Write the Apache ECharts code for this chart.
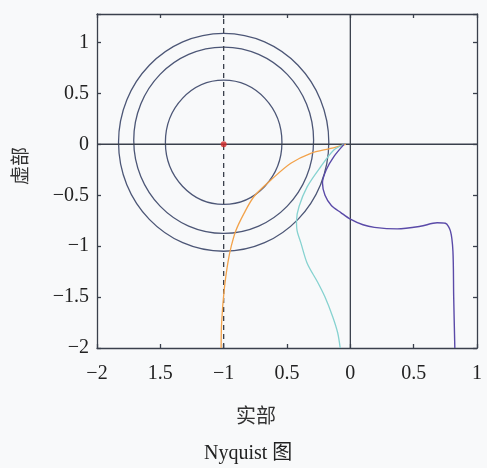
<!DOCTYPE html>
<html>
<head>
<meta charset="utf-8">
<script src="https://cdn.jsdelivr.net/npm/echarts@6/dist/echarts.min.js"></script>
<style>
html,body{margin:0;padding:0;background:#f8f9fa;}
#chart{width:487px;height:468px;}
</style>
</head>
<body>
<div id="chart"></div>
<script>
// tick values and the labels as printed in the figure
const xTicks = [-2, -1.5, -1, -0.5, 0, 0.5, 1];
const xTickLabels = ['−2', '1.5', '−1', '0.5', '0', '0.5', '1'];
const yTicks = [-2, -1.5, -1, -0.5, 0, 0.5, 1];
const yTickLabels = ['−2', '−1.5', '−1', '−0.5', '0', '0.5', '1'];

// circles: [centerX, centerY, radiusX, radiusY] in data units
const circles = [
  [-1.0, 0.02, 0.46, 0.61],
  [-1.0, 0.04, 0.71, 0.915],
  [-1.0, 0.02, 0.83, 1.07]
];

const orangeCurve = [[-0.035,0],[-0.155,-0.04],[-0.312,-0.088],[-0.47,-0.186],[-0.627,-0.35],
  [-0.759,-0.51],[-0.838,-0.675],[-0.905,-0.85],[-0.94,-1.0],[-0.965,-1.15],[-0.995,-1.42],
  [-1.016,-1.75],[-1.02,-2]];
const cyanCurve = [[-0.05,0],[-0.13,-0.056],[-0.234,-0.22],[-0.34,-0.415],[-0.405,-0.61],
  [-0.425,-0.75],[-0.42,-0.85],[-0.39,-0.97],[-0.34,-1.17],[-0.26,-1.35],[-0.2,-1.5],
  [-0.14,-1.69],[-0.1,-1.85],[-0.08,-2]];
const purpleCurve = [[-0.05,0],[-0.13,-0.12],[-0.19,-0.25],[-0.22,-0.38],[-0.2,-0.5],
  [-0.15,-0.6],[-0.075,-0.67],[0.0,-0.735],[0.1,-0.79],[0.19,-0.815],[0.37,-0.83],
  [0.553,-0.805],[0.685,-0.77],[0.75,-0.775],[0.79,-0.85],[0.81,-1.05],[0.816,-1.5],[0.825,-2]];

const criticalPoint = [[-1, 0]];
const realAxisLine = [[-2, 0], [1, 0]];
const imagAxisLine = [[0, -2], [0, 1.28]];
const dashedLine = [[-1, -2], [-1, 1.28]];

const axisColor = '#3a404c';
const numFont = '"Liberation Serif", "DejaVu Serif", serif';
const cjkFont = '"Noto Sans CJK SC", sans-serif';

function fmt(ticks, labels) {
  return function (v) {
    const i = ticks.findIndex(t => Math.abs(t - v) < 1e-6);
    return i >= 0 ? labels[i] : '';
  };
}

const chart = echarts.init(document.getElementById('chart'));
const baseAxis = {
  type: 'value',
  interval: 0.5,
  axisLine: { show: true, onZero: false, lineStyle: { color: axisColor, width: 1.3 } },
  axisTick: { show: true, inside: true, length: 4, lineStyle: { color: axisColor, width: 1.3 } },
  splitLine: { show: false }
};

const option = {
  backgroundColor: '#f8f9fa',
  animation: false,
  grid: { left: 97, right: 10, top: 14, bottom: 120 },
  xAxis: [
    Object.assign({}, baseAxis, {
      min: -2, max: 1, position: 'bottom',
      axisLabel: { formatter: fmt(xTicks, xTickLabels), color: '#222', fontFamily: numFont, fontSize: 20, margin: 16, showMaxLabel: true, showMinLabel: true }
    }),
    Object.assign({}, baseAxis, {
      min: -2, max: 1, position: 'top', axisLabel: { show: false }
    })
  ],
  yAxis: [
    Object.assign({}, baseAxis, {
      min: -2, max: 1.28, position: 'left',
      axisLabel: { formatter: fmt(yTicks, yTickLabels), color: '#222', fontFamily: numFont, fontSize: 20, margin: 8 }
    }),
    Object.assign({}, baseAxis, {
      min: -2, max: 1.28, position: 'right', axisLabel: { show: false }
    })
  ],
  graphic: [
    { type: 'text', left: 236, top: 405, style: { text: '实部', font: '20px ' + cjkFont, fill: '#333' } },
    { type: 'text', left: 204, top: 444, style: { text: 'Nyquist 图', font: '20px ' + numFont + ', ' + cjkFont, fill: '#222' } },
    { type: 'text', x: 10, y: 185, rotation: Math.PI / 2, style: { text: '虚部', font: '19px ' + cjkFont, fill: '#333' } }
  ],
  series: [
    {
      type: 'custom',
      data: circles,
      silent: true,
      encode: { x: [0], y: [1] },
      renderItem: function (params, api) {
        const c = api.coord([api.value(0), api.value(1)]);
        const s = api.size([api.value(2), api.value(3)]);
        return {
          type: 'ellipse',
          shape: { cx: c[0], cy: c[1], rx: s[0], ry: s[1] },
          style: { fill: null, stroke: '#4c5676', lineWidth: 1.3 }
        };
      },
      z: 2
    },
    { type: 'line', data: realAxisLine, showSymbol: false, lineStyle: { color: axisColor, width: 1.5 }, z: 3 },
    { type: 'line', data: imagAxisLine, showSymbol: false, lineStyle: { color: axisColor, width: 1.3 }, z: 3 },
    { type: 'line', data: dashedLine, showSymbol: false, lineStyle: { color: axisColor, width: 1.3, type: [5, 4] }, z: 3 },
    { type: 'line', data: orangeCurve, smooth: 0.3, showSymbol: false, lineStyle: { color: '#f2a24a', width: 1.3 }, z: 4 },
    { type: 'line', data: cyanCurve, smooth: 0.3, showSymbol: false, lineStyle: { color: '#86d2d0', width: 1.3 }, z: 4 },
    { type: 'line', data: purpleCurve, smooth: 0.3, showSymbol: false, lineStyle: { color: '#5a4aa8', width: 1.4 }, z: 4 },
    { type: 'scatter', data: criticalPoint, symbolSize: 6, itemStyle: { color: '#d42a2a' }, z: 5 }
  ]
};
chart.setOption(option);
</script>
</body>
</html>
